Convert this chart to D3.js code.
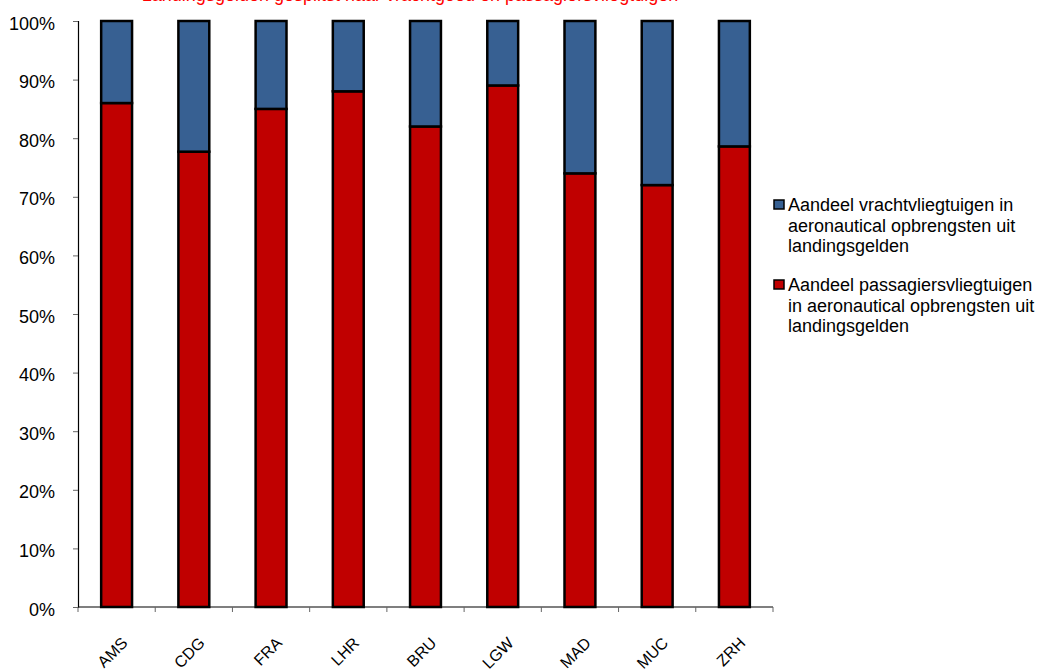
<!DOCTYPE html>
<html><head><meta charset="utf-8">
<script src="https://cdn.jsdelivr.net/npm/d3@7"></script>
<style>body{margin:0;background:#fff}svg{display:block;font-family:Arial,"Liberation Sans",sans-serif}</style>
</head><body>
<svg id="c" width="1046" height="671"></svg>
<script>
const categories = ["AMS","CDG","FRA","LHR","BRU","LGW","MAD","MUC","ZRH"];
const passagiers = [86, 77.7, 85, 88, 82, 89, 74, 72, 78.6];
const vracht = passagiers.map(v => 100 - v);
const yTicks = [0,10,20,30,40,50,60,70,80,90,100];
const legendLines = [["Aandeel vrachtvliegtuigen in","aeronautical opbrengsten uit","landingsgelden"],
                     ["Aandeel passagiersvliegtuigen","in aeronautical opbrengsten uit","landingsgelden"]];
const colors = {passagiers:"#C00000", vracht:"#376092"};
const title = "Landingsgelden gesplitst naar vrachtgoed en passagiersvliegtuigen";

const svg = d3.select("#c");
const m = {l:78, r:273, t:21, b:64};
const W = 1046, H = 671;
const x = d3.scaleBand().domain(categories).range([m.l, W - m.r]).paddingInner(0.6).paddingOuter(0.3);
const y = d3.scaleLinear().domain([0,100]).range([H - m.b, m.t]);

svg.append("text").attr("x", 410).attr("y", 1).attr("text-anchor","middle")
  .attr("fill","#FF0000").attr("font-size",18).text(title);

const data = categories.map((c,i)=>({c, p:passagiers[i], v:vracht[i]}));
const stack = d3.stack().keys(["p","v"])(data);
const fills = [colors.passagiers, colors.vracht];
stack.forEach((s,k)=>{
  svg.append("g").selectAll("rect").data(s).join("rect")
    .attr("x", d=>x(d.data.c)).attr("width", x.bandwidth())
    .attr("y", d=>y(d[1])).attr("height", d=>y(d[0])-y(d[1]))
    .attr("fill", fills[k]).attr("stroke","#000").attr("stroke-width",2.5);
});

// y axis
const ya = svg.append("g").attr("transform",`translate(${m.l},0)`)
  .call(d3.axisLeft(y).tickValues(yTicks).tickFormat(d=>d+"%").tickSize(5).tickPadding(18));
ya.select(".domain").attr("stroke","#000").attr("stroke-width",1.2);
ya.selectAll(".tick line").attr("stroke","#666");
ya.selectAll("text").attr("font-size",18).attr("dy","0.45em").attr("fill","#000")
  .attr("font-family","Arial, Liberation Sans, sans-serif");

// x axis
const xa = svg.append("g").attr("transform",`translate(0,${y(0)})`);
xa.append("line").attr("x1",m.l).attr("x2",W-m.r).attr("stroke","#000").attr("stroke-width",1.2);
const bounds = d3.range(categories.length+1).map(i => m.l + i*(W-m.r-m.l)/categories.length);
xa.selectAll("line.tk").data(bounds).join("line").attr("class","tk")
  .attr("x1",d=>d).attr("x2",d=>d).attr("y1",0).attr("y2",5).attr("stroke","#666");
xa.selectAll("text").data(categories).join("text")
  .attr("transform", d=>`translate(${x(d)+x.bandwidth()/2+12},${37}) rotate(-45)`)
  .attr("text-anchor","end").attr("font-size",16).attr("fill","#000").text(d=>d);

// legend
const lg = svg.append("g");
const lcol = [colors.vracht, colors.passagiers];
const ly = [211, 291];
legendLines.forEach((lines,i)=>{
  lg.append("rect").attr("x",774).attr("y",ly[i]-11).attr("width",10).attr("height",9)
    .attr("fill",lcol[i]).attr("stroke","#000").attr("stroke-width",1.5);
  const t = lg.append("text").attr("x",788).attr("y",ly[i]).attr("font-size",18).attr("fill","#000");
  lines.forEach((ln,j)=> t.append("tspan").attr("x",788).attr("dy", j===0?0:20.7).text(ln));
});
</script>
</body></html>
